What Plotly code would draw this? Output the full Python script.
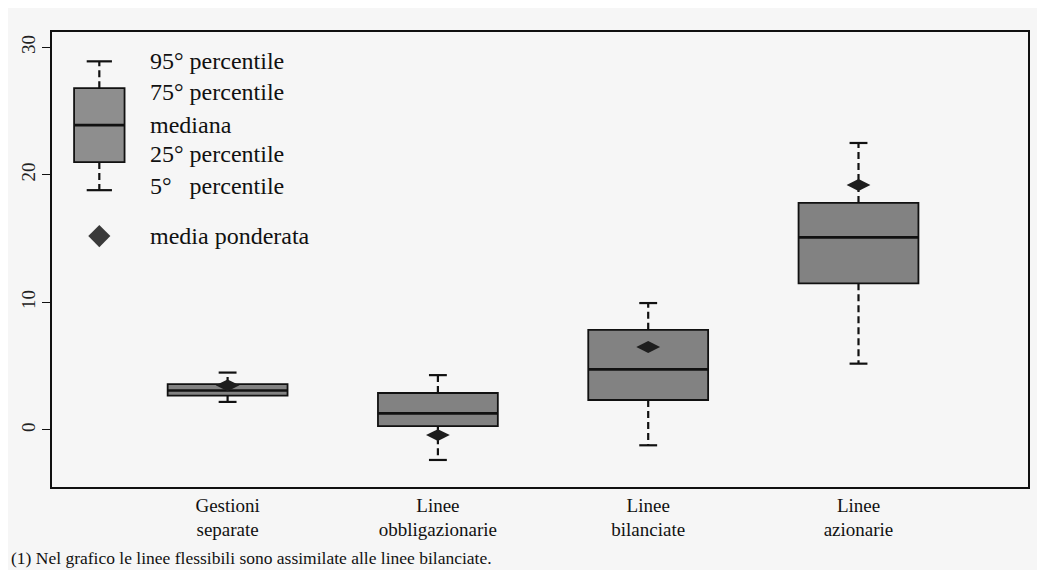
import plotly.graph_objects as go

# ---- data ----
categories = ["Gestioni<br>separate", "Linee<br>obbligazionarie", "Linee<br>bilanciate", "Linee<br>azionarie"]
p5 = [2.2, -2.35, -1.2, 5.2]
p25 = [2.7, 0.3, 2.35, 11.5]
median = [3.1, 1.3, 4.75, 15.1]
p75 = [3.6, 2.9, 7.85, 17.8]
p95 = [4.5, 4.3, 9.95, 22.5]
weighted_mean = [3.5, -0.4, 6.5, 19.2]

# legend key (illustrative box)
key_labels = ["95° percentile", "75° percentile", "mediana", "25° percentile", "5°\u00a0\u00a0\u00a0percentile"]
key_values = [28.9, 26.8, 23.9, 21.0, 18.8]   # p95, p75, median, p25, p5
key_text_y = [28.9, 26.5, 23.9, 21.6, 19.1]
key_mean_label = "media ponderata"
key_mean_value = 15.2
footnote = "(1) Nel grafico le linee flessibili sono assimilate alle linee bilanciate."

yticks = [0, 10, 20, 30]

positions = [1, 2, 3, 4]
key_x = 0.39
box_w = 0.57
key_w = 0.24
cap_w = 0.085
key_cap_w = 0.12

BOX_COLOR = "#828282"
FONT = "Liberation Serif"

fig = go.Figure()


def add_boxes(xs, lo, q1, med, q3, hi, w, cw, fill):
    # box body
    fig.add_trace(go.Bar(
        x=xs, base=q1, y=[b - a for a, b in zip(q1, q3)], width=w,
        marker=dict(color=fill, line=dict(color="#111", width=1.8)),
        showlegend=False, hoverinfo="skip"))
    # dashed whiskers
    wx, wy = [], []
    for x, a, b, c, d in zip(xs, lo, q1, q3, hi):
        wx += [x, x, None, x, x, None]
        wy += [b, a, None, c, d, None]
    fig.add_trace(go.Scatter(x=wx, y=wy, mode="lines",
                             line=dict(color="#111", width=2.2, dash="7px,4px"),
                             showlegend=False, hoverinfo="skip"))
    # caps
    cx, cy = [], []
    for x, a, d in zip(xs, lo, hi):
        cx += [x - cw / 2, x + cw / 2, None, x - cw / 2, x + cw / 2, None]
        cy += [a, a, None, d, d, None]
    fig.add_trace(go.Scatter(x=cx, y=cy, mode="lines",
                             line=dict(color="#111", width=2.2),
                             showlegend=False, hoverinfo="skip"))
    # median
    mx, my = [], []
    for x, m in zip(xs, med):
        mx += [x - w / 2, x + w / 2, None]
        my += [m, m, None]
    fig.add_trace(go.Scatter(x=mx, y=my, mode="lines",
                             line=dict(color="#111", width=2.6),
                             showlegend=False, hoverinfo="skip"))


add_boxes(positions, p5, p25, median, p75, p95, box_w, cap_w, BOX_COLOR)
add_boxes([key_x], [key_values[4]], [key_values[3]], [key_values[2]],
          [key_values[1]], [key_values[0]], key_w, key_cap_w, "#8e8e8e")

# weighted means
fig.add_trace(go.Scatter(x=positions, y=weighted_mean, mode="markers",
                         marker=dict(symbol="diamond-wide", size=17, color="#1e1e1e"),
                         showlegend=False, hoverinfo="skip"))
fig.add_trace(go.Scatter(x=[key_x], y=[key_mean_value], mode="markers",
                         marker=dict(symbol="diamond", size=17, color="#3a3a3a"),
                         showlegend=False, hoverinfo="skip"))

annotations = []
for lab, yv in zip(key_labels, key_text_y):
    annotations.append(dict(x=0.62, y=yv, xref="x", yref="y", text=lab, showarrow=False,
                            xanchor="left", yanchor="middle",
                            font=dict(family=FONT, size=24, color="#111")))
annotations.append(dict(x=0.62, y=key_mean_value, xref="x", yref="y", text=key_mean_label,
                        showarrow=False, xanchor="left", yanchor="middle",
                        font=dict(family=FONT, size=24, color="#111")))
annotations.append(dict(x=-0.044, y=-0.157, xref="paper", yref="paper", text=footnote,
                        showarrow=False, xanchor="left", yanchor="middle",
                        font=dict(family=FONT, size=17.5, color="#111")))

# page body adds an 8px margin, so the figure is sized to fit the window
fig.update_layout(
    width=1029, height=562,
    margin=dict(l=44, r=7, t=24, b=83),
    paper_bgcolor="#f6f6f6", plot_bgcolor="#f6f6f6",
    barmode="overlay",
    annotations=annotations,
    font=dict(family=FONT, color="#111"),
)
fig.update_xaxes(range=[0.165, 4.806], tickmode="array", tickvals=positions, ticktext=categories,
                 ticks="", showgrid=False, zeroline=False,
                 showline=True, linecolor="#111", linewidth=1.8, mirror=True,
                 tickfont=dict(family=FONT, size=19, color="#111"))
fig.update_yaxes(range=[-4.47, 31.2], tickmode="array", tickvals=yticks,
                 ticks="outside", ticklen=8, tickwidth=1.4, tickcolor="#111",
                 tickangle=-90, showgrid=False, zeroline=False,
                 showline=True, linecolor="#111", linewidth=1.8, mirror=True,
                 tickfont=dict(family=FONT, size=19, color="#222"))

fig.write_html("out.html")
